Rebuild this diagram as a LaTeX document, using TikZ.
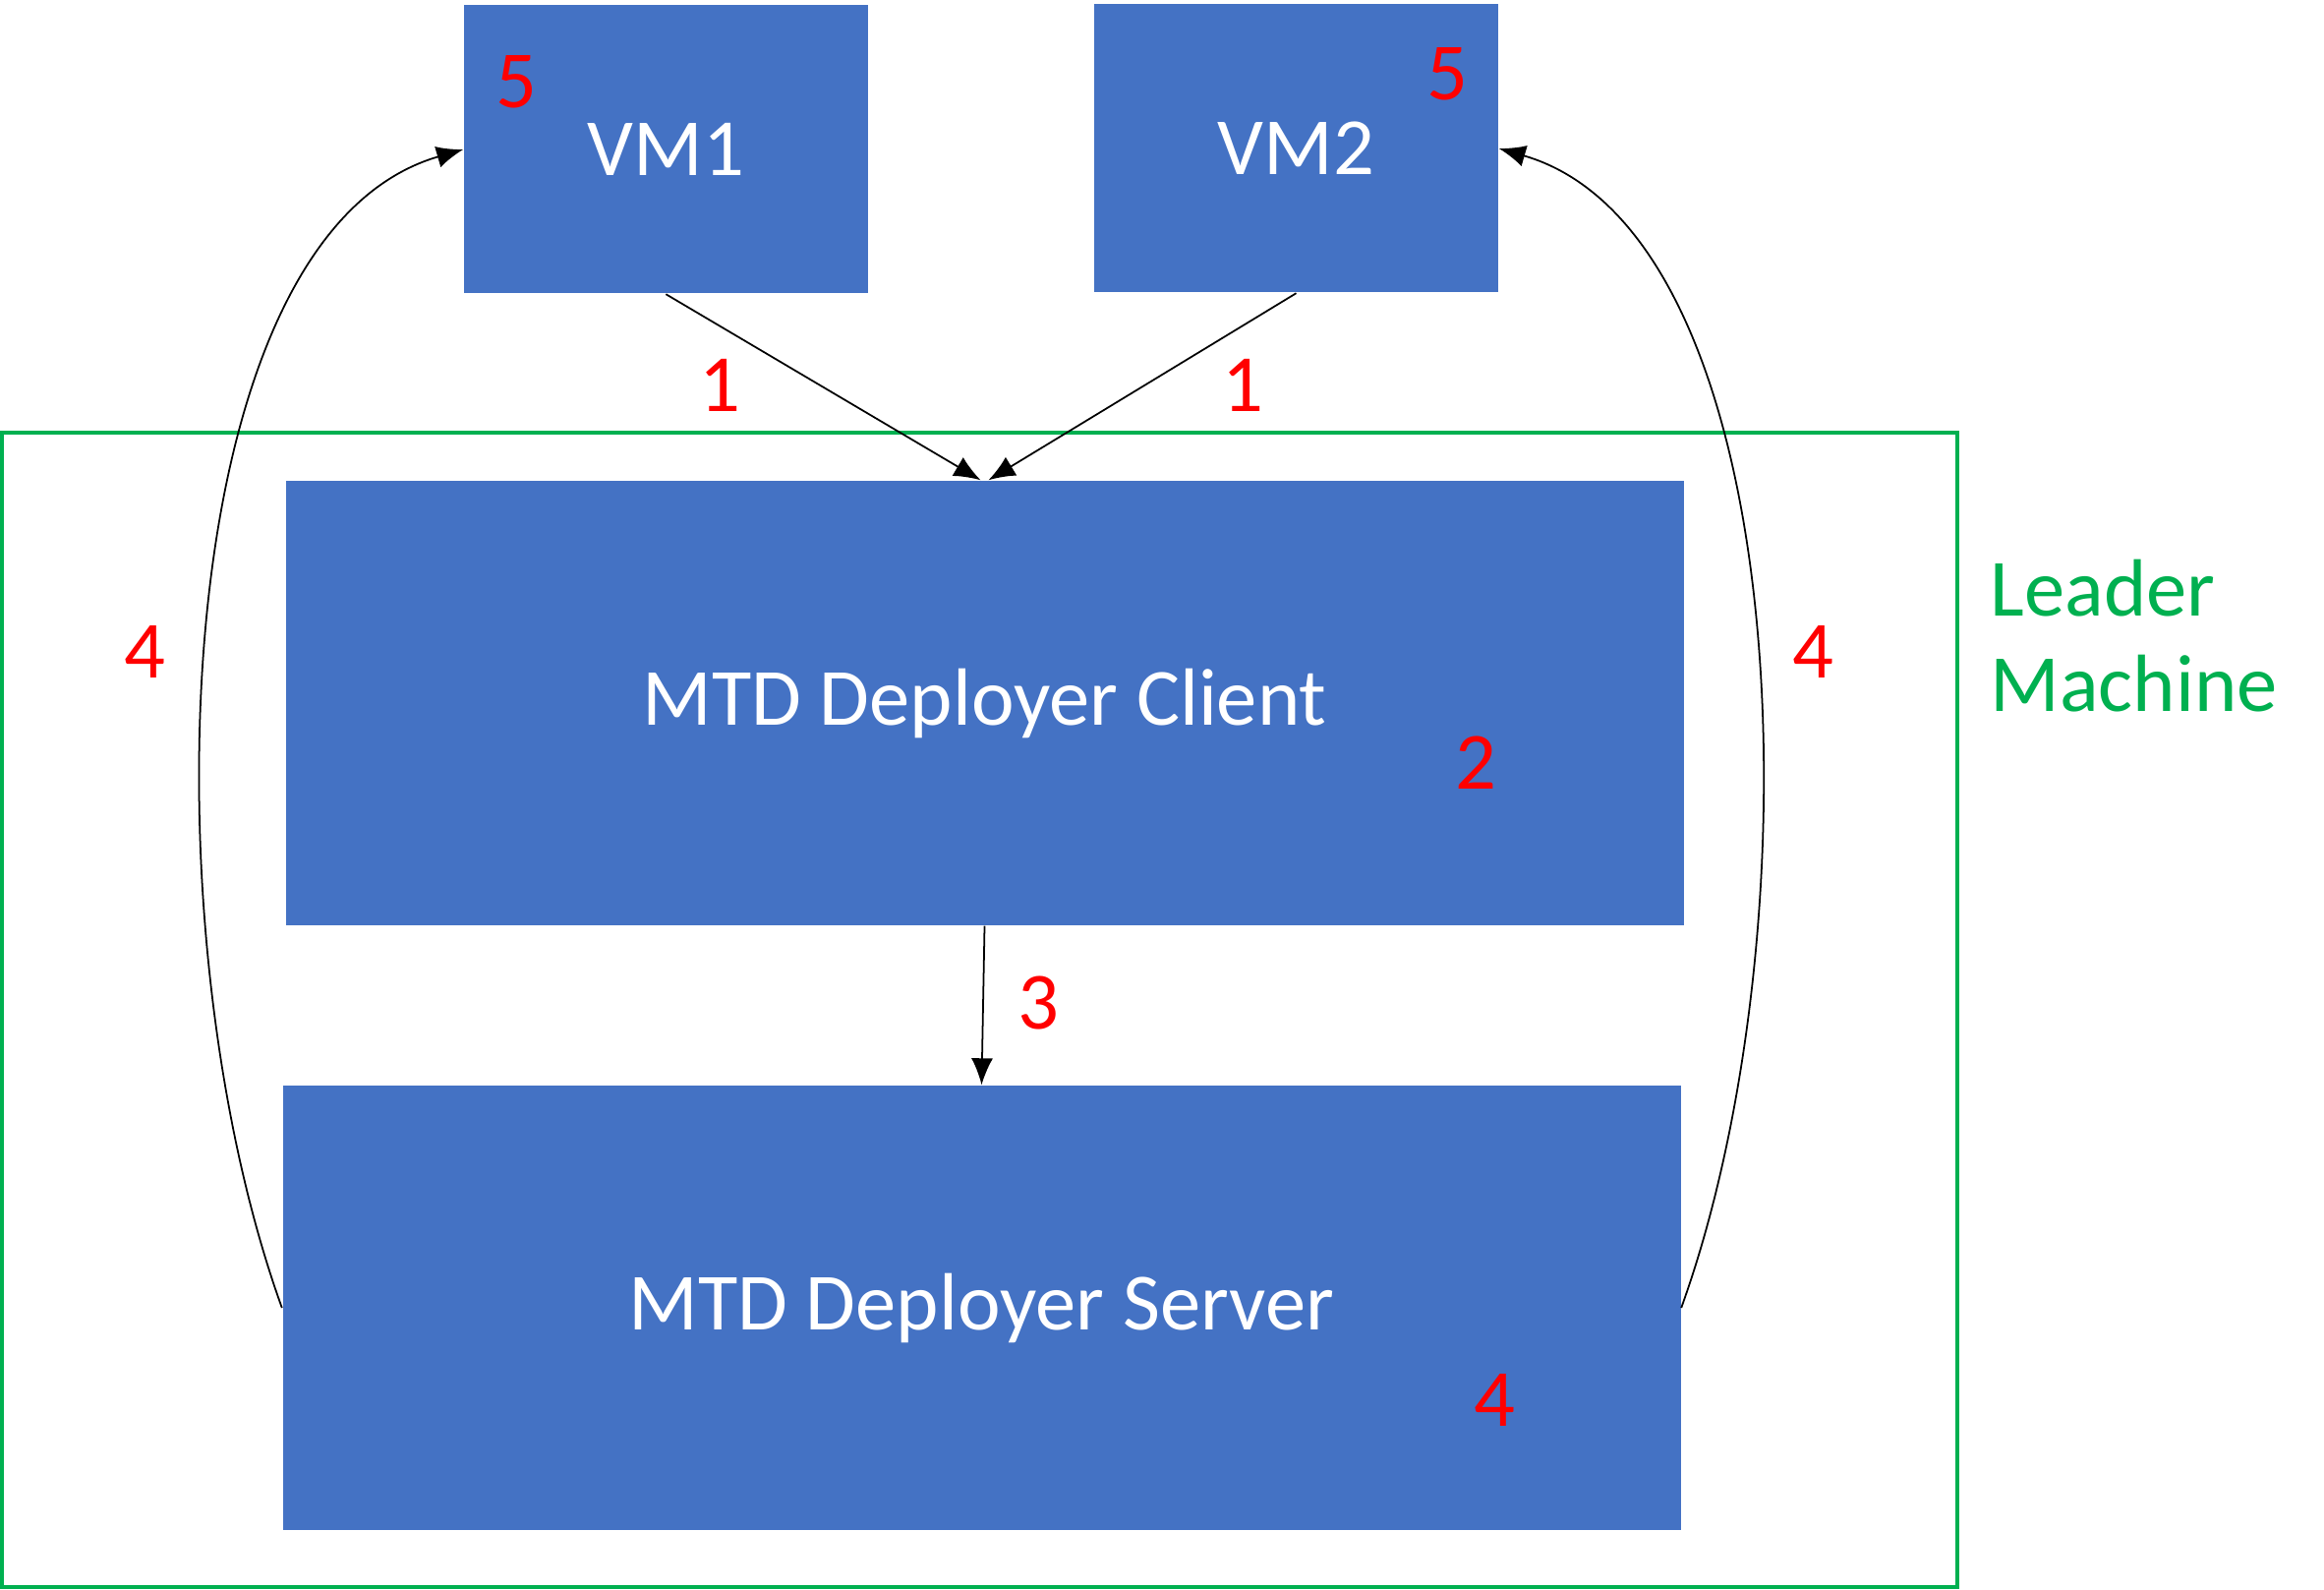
\documentclass[tikz,border=0pt]{standalone}
\usepackage{fontspec}
\setmainfont{Carlito}
\usetikzlibrary{arrows.meta,positioning}
\definecolor{boxblue}{RGB}{68,114,196}
\definecolor{leadgreen}{RGB}{0,176,80}

\begin{document}
\begin{tikzpicture}[
  vm/.style={rectangle, fill=boxblue, text=white, minimum width=4.11cm, minimum height=2.93cm, inner sep=0pt},
  part/.style={rectangle, fill=boxblue, text=white, minimum width=14.22cm, minimum height=4.52cm, inner sep=0pt},
  frame/.style={rectangle, draw=leadgreen, line width=1.4pt, minimum width=19.89cm, minimum height=11.74cm},
  num/.style={text=red, inner sep=0pt},
  flow/.style={-{Latex[length=2.7mm,width=2.2mm]}, line width=0.5pt},
  every node/.style={font=\fontsize{23.5}{27.6}\selectfont}
  ]
\useasboundingbox (0,0) rectangle (23.64,-16.17);
% leader machine
\node[frame] (lm) at (9.965,-10.27) {};
\node[text=leadgreen, align=left, anchor=west, inner sep=0pt] (lmtext) at (20.24,-6.47) {Leader\\Machine};
% boxes
\node[vm] (vm1) at (6.774,-1.52) {VM1};
\node[vm] (vm2) at (13.185,-1.51) {VM2};
\node[part] (cli) at (10.015,-7.15) {MTD Deployer Client};
\node[part] (srv) at (9.985,-13.30) {MTD Deployer Server};
% step numbers
\node[num] (n5a) at (5.25,-0.83) {5};
\node[num] (n5b) at (14.72,-0.75) {5};
\node[num] (n1a) at (7.32,-3.92) {1};
\node[num] (n1b) at (12.64,-3.92) {1};
\node[num] (n4a) at (1.47,-6.63) {4};
\node[num] (n4b) at (18.44,-6.63) {4};
\node[num] (n2) at (15.01,-7.76) {2};
\node[num] (n3) at (10.56,-10.20) {3};
\node[num] (n4c) at (15.20,-14.24) {4};
% connectors
\draw[flow] (vm1.south) -- ([xshift=-0.04cm]cli.north);
\draw[flow] (vm2.south) -- ([xshift=0.04cm]cli.north);
\draw[flow] (cli.south) -- (srv.north);
\draw[flow] (srv.west) .. controls +(-1.39,3.85) and +(-3.04,-0.88) .. (vm1.west);
\draw[flow] (srv.east) .. controls +(1.39,3.85) and +(3.04,-0.88) .. (vm2.east);
\end{tikzpicture}
\end{document}
